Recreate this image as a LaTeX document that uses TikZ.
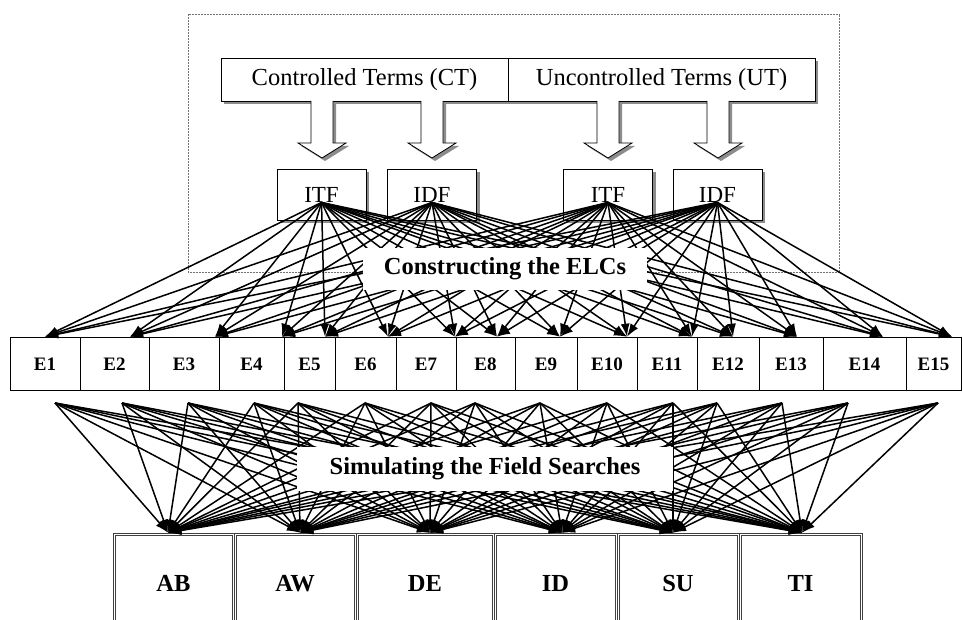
\documentclass[tikz,border=0pt]{standalone}
\usepackage{fontspec}
\setmainfont{Liberation Serif}
\usetikzlibrary{positioning, calc, arrows.meta, shadows}

\begin{document}
\begin{tikzpicture}[x=1pt, y=-1pt, >={Latex[length=13pt, width=9pt]},
  grayshadow/.style={drop shadow={shadow xshift=3pt, shadow yshift=-3pt, fill=black!45, opacity=1}},
  termbox/.style={draw, fill=white, line width=0.8pt, minimum height=43pt, inner sep=0pt,
    font=\fontsize{24.5}{26}\selectfont, grayshadow},
  weightbox/.style={draw, fill=white, line width=0.6pt, minimum width=89pt, minimum height=51pt,
    inner sep=0pt, font=\fontsize{23}{25}\selectfont, grayshadow},
  ebox/.style={draw, line width=0.6pt, minimum height=53pt, inner sep=0pt,
    text height=13pt, text depth=0pt, font=\bfseries\fontsize{19}{21}\selectfont},
  fieldbox/.style={draw=black!75, line width=0.6pt, minimum height=100pt, inner sep=0pt,
    text height=17pt, text depth=0pt, font=\bfseries\fontsize{24.5}{26}\selectfont},
  stagelabel/.style={fill=white, inner sep=0pt, font=\bfseries\fontsize{24.5}{26}\selectfont},
  link/.style={->, line width=1.5pt}]

\useasboundingbox (0,0) rectangle (963,620);

%% ── dotted frame round the term weighting ───────────────────────
\draw[densely dotted, black!55, line width=0.5pt] (188,14) rectangle (839,272);

%% ── term sources ─────────────────────────────────────────────────
\node[termbox, minimum width=287pt] (CT) at (364.5,79.5) {Controlled Terms (CT)};
\node[termbox, minimum width=307pt] (UT) at (661.5,79.5) {Uncontrolled Terms (UT)};

%% ── block arrows down to the weights ────────────────────────────
\foreach \c in {322,432,608,718}
  \draw[fill=white, line width=0.8pt, grayshadow]
    (\c-11,101) -- (\c-11,143) -- (\c-24,143) -- (\c,158) -- (\c+24,143) -- (\c+11,143) -- (\c+11,101);

%% ── ITF / IDF weights ───────────────────────────────────────────
\node[weightbox] (ctITF) at (321.5,194.5) {ITF};
\node[weightbox] (ctIDF) at (432,194.5) {IDF};
\node[weightbox] (utITF) at (608,194.5) {ITF};
\node[weightbox] (utIDF) at (717.5,194.5) {IDF};

%% ── ELC row ──────────────────────────────────────────────────────
\foreach \i/\l/\r in {1/10/80, 2/80/149, 3/149/219, 4/219/284, 5/284/335, 6/335/396,
    7/396/456, 8/456/515, 9/515/577, 10/577/637, 11/637/697, 12/697/759,
    13/759/823, 14/823/906, 15/906/961}
  \node[ebox, minimum width={(\r-\l)*1pt}] (E\i) at ({(\l+\r)/2},363.5) {E\i};

%% ── search fields (double border) ───────────────────────────────
\foreach \f/\l/\r in {AB/113/234, AW/234/356, DE/356/494, ID/494/617, SU/617/739, TI/739/862} {
  \node[fieldbox, minimum width={(\r-\l)*1pt}] (\f) at ({(\l+\r)/2},583) {\f};
  \draw[black!75, line width=0.5pt] ($(\f.north west)+(2.2,2.2)$) rectangle ($(\f.south east)+(-2.2,-2.2)$);
}

%% ── arrow ends ───────────────────────────────────────────────────
\foreach \i/\x in {1/45, 2/130, 3/215, 4/282, 5/325, 6/388, 7/455, 8/497, 9/560,
    10/627, 11/692, 12/733, 13/797, 14/883, 15/952}
  \coordinate (in\i) at (\x,0 |- E\i.north);
\foreach \i/\x in {1/55, 2/122, 3/188, 4/254, 5/298, 6/365, 7/431, 8/475, 9/540,
    10/607, 11/673, 12/717, 13/782, 14/848, 15/938}
  \coordinate (out\i) at (\x,403);
\foreach \f/\x in {AB/168, AW/300, DE/430, ID/562, SU/673, TI/802}
  \coordinate (in\f) at (\x,0 |- \f.north);

%% ── weights -> ELCs ──────────────────────────────────────────────
\foreach \s in {ctITF, ctIDF, utITF, utIDF}
  \foreach \i in {1,...,15}
    \draw[link] ([yshift=-8pt]\s.center) -- (in\i);

%% ── ELCs -> fields ───────────────────────────────────────────────
\foreach \i in {1,...,15}
  \foreach \f in {AB, AW, DE, ID, SU, TI}
    \draw[link] (out\i) -- (in\f);

%% ── stage labels ─────────────────────────────────────────────────
\node[stagelabel, minimum width=284pt, minimum height=42pt] (build) at (505,269) {Constructing the ELCs};
\node[stagelabel, minimum width=376pt, minimum height=44pt] (simulate) at (485,469) {Simulating the Field Searches};

\end{tikzpicture}
\end{document}
